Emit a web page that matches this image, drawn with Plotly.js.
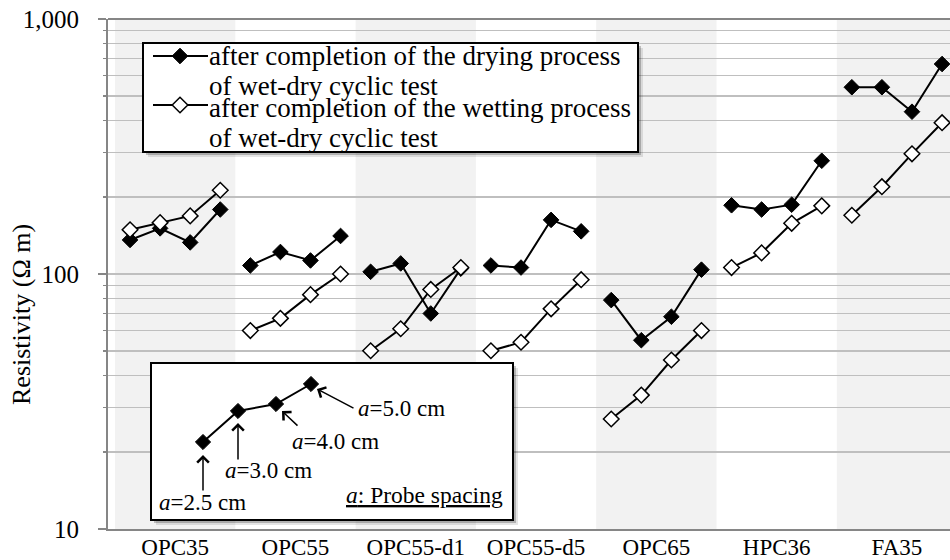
<!DOCTYPE html>
<html><head><meta charset="utf-8">
<script src="https://cdn.plot.ly/plotly-3.0.1.min.js"></script>
<style>
html,body{margin:0;padding:0;background:#fff;}
#chart{width:950px;height:560px;}
</style></head><body><div id="chart"></div>
<script>
// ---- data ----
const groups = ['OPC35','OPC55','OPC55-d1','OPC55-d5','OPC65','HPC36','FA35'];
const probeSpacing = [2.5, 3.0, 4.0, 5.0]; // cm, order of points inside each group
// resistivity (Ohm m) after the drying process, 4 values per group
const dryOPC35 = [136, 151, 133, 179];
const dryOPC55 = [108, 122, 113, 141];
const dryOPC55d1 = [102, 110, 70, 105];
const dryOPC55d5 = [108, 106, 163, 147];
const dryOPC65 = [79, 55, 68, 104];
const dryHPC36 = [186, 179, 187, 278];
const dryFA35 = [540, 540, 433, 666];
// resistivity (Ohm m) after the wetting process
const wetOPC35 = [149, 159, 169, 213];
const wetOPC55 = [60, 67, 83, 100];
const wetOPC55d1 = [50, 61, 87, 106];
const wetOPC55d5 = [50, 54, 73, 95];
const wetOPC65 = [27, 33.5, 46, 60];
const wetHPC36 = [106, 121, 158, 185];
const wetFA35 = [170, 220, 296, 392];
const yTickVals = [10, 100, 1000];
const yTickText = ['10', '100', '1,000'];
const legendNames = ['after completion of the drying process', 'of wet-dry cyclic test',
                     'after completion of the wetting process', 'of wet-dry cyclic test'];

const drySeries = [dryOPC35, dryOPC55, dryOPC55d1, dryOPC55d5, dryOPC65, dryHPC36, dryFA35];
const wetSeries = [wetOPC35, wetOPC55, wetOPC55d1, wetOPC55d5, wetOPC65, wetHPC36, wetFA35];

function buildXY(series){
  const x = [], y = [];
  series.forEach((vals, g) => {
    vals.forEach((v, j) => { x.push(g + (j + 0.5) / probeSpacing.length); y.push(v); });
    x.push(null); y.push(null);
  });
  return {x, y};
}
const dryXY = buildXY(drySeries);
const wetXY = buildXY(wetSeries);

const FONT = 'Liberation Serif, Times New Roman, serif';
// helpers: page pixel -> paper coords (plot area 108..950 x 19..529)
const L = 108, R = 950, T = 19, B = 529;
const PX = x => (x - L) / (R - L);
const PY = y => (B - y) / (B - T);

const minorVals = [];
[10, 100].forEach(d => { for (let k = 2; k <= 9; k++) minorVals.push(k * d); });

const shapes = [];
// alternating shaded bands
groups.forEach((_, g) => {
  if (g % 2 === 0) shapes.push({type:'rect', xref:'x', yref:'paper', x0:g, x1:g+1, y0:0, y1:1,
    fillcolor:'#f2f2f2', line:{width:0}, layer:'below'});
});
// top frame line
shapes.push({type:'line', xref:'paper', yref:'paper', x0:0, x1:1, y0:1, y1:1, line:{color:'#868686', width:2}, layer:'above'});

function box(x0, y0, x1, y1){
  shapes.push({type:'rect', xref:'paper', yref:'paper', x0:PX(x0+5), x1:PX(x1+5), y0:PY(y1+5), y1:PY(y0+5),
    fillcolor:'rgba(0,0,0,0.10)', line:{width:0}, layer:'above'});
  shapes.push({type:'rect', xref:'paper', yref:'paper', x0:PX(x0+3), x1:PX(x1+3), y0:PY(y1+3), y1:PY(y0+3),
    fillcolor:'rgba(0,0,0,0.22)', line:{width:0}, layer:'above'});
  shapes.push({type:'rect', xref:'paper', yref:'paper', x0:PX(x0), x1:PX(x1), y0:PY(y1), y1:PY(y0),
    fillcolor:'#ffffff', line:{color:'#000', width:2}, layer:'above'});
}
function diamond(cx, cy, r, fill, lw){
  shapes.push({type:'path', xref:'paper', yref:'paper',
    path:`M${PX(cx-r)},${PY(cy)} L${PX(cx)},${PY(cy-r)} L${PX(cx+r)},${PY(cy)} L${PX(cx)},${PY(cy+r)} Z`,
    fillcolor:fill, line:{color:'#000', width:lw}, layer:'above'});
}
function seg(pts){
  shapes.push({type:'path', xref:'paper', yref:'paper',
    path: pts.map((p,i)=>(i?'L':'M')+PX(p[0])+','+PY(p[1])).join(' '),
    line:{color:'#000', width:2}, layer:'above'});
}
// legend box
box(143, 43, 638, 152);
seg([[153,56],[208,56]]); diamond(180, 56, 7.8, '#000', 1);
seg([[153,105],[208,105]]); diamond(180, 105, 7.8, '#fff', 1.5);
// inset box
box(151, 363, 513, 520);
const insetPts = [[203,442],[238,411],[276,404],[311,384]];
seg(insetPts);
insetPts.forEach(p => diamond(p[0], p[1], 7.6, '#000', 1));

const annotations = [];
function txt(x, y, text, opts){
  annotations.push(Object.assign({xref:'paper', yref:'paper', x:PX(x), y:PY(y), text, showarrow:false,
    xanchor:'center', yanchor:'middle', font:{family:FONT, size:23, color:'#000'}}, opts||{}));
}
function arrow(tip, tail){
  annotations.push({xref:'paper', yref:'paper', x:PX(tip[0]), y:PY(tip[1]), ax:tail[0]-tip[0], ay:tail[1]-tip[1],
    text:'', showarrow:true, arrowhead:4, arrowsize:1.5, arrowwidth:1.5, arrowcolor:'#000'});
}
// legend text
const legY = [56, 86, 108, 138];
legendNames.forEach((t, i) => txt(207, legY[i], t, {xanchor:'left', font:{family:FONT, size:27, color:'#000'}}));
// inset annotations
arrow([203,455],[203,492]);
arrow([238,423],[238,461]);
arrow([282,411],[299,427]);
arrow([317,389],[355,409]);
txt(202, 502, '<i>a</i>=2.5 cm');
txt(268, 470, '<i>a</i>=3.0 cm');
txt(335, 442, '<i>a</i>=4.0 cm');
txt(401, 408, '<i>a</i>=5.0 cm');
txt(424, 495, '<u><i>a</i>: Probe spacing</u>', {font:{family:FONT, size:23.5, color:'#000'}});
// y title
txt(22, 315, 'Resistivity (Ω m)', {textangle:-90, font:{family:FONT, size:26, color:'#000'}});

const traces = [
  {x:dryXY.x, y:dryXY.y, mode:'lines+markers', connectgaps:false, showlegend:false, hoverinfo:'skip',
   line:{color:'#000', width:2}, marker:{symbol:'diamond', size:12, color:'#000', line:{color:'#000', width:1}}, cliponaxis:false},
  {x:wetXY.x, y:wetXY.y, mode:'lines+markers', connectgaps:false, showlegend:false, hoverinfo:'skip',
   line:{color:'#000', width:2}, marker:{symbol:'diamond', size:12, color:'#fff', line:{color:'#000', width:1.5}}, cliponaxis:false}
];

const layout = {
  width:950, height:560, margin:{l:L, r:950-R, t:T, b:560-B, pad:0},
  paper_bgcolor:'#fff', plot_bgcolor:'#fff', showlegend:false,
  font:{family:FONT, color:'#000'},
  xaxis:{range:[-7/120.3, -7/120.3 + 842/120.3], showgrid:false, zeroline:false, showline:true,
    linecolor:'#868686', linewidth:2, tickmode:'array', tickvals:groups.map((_,g)=>g+0.5), ticktext:groups,
    ticks:'', tickfont:{family:FONT, size:23, color:'#000'}, ticklabelstandoff:-4, fixedrange:true},
  yaxis:{type:'log', range:[1,3], tickmode:'array', tickvals:yTickVals, ticktext:yTickText,
    showgrid:true, gridcolor:'#bfbfbf', gridwidth:1.5, zeroline:false, showline:true, linecolor:'#868686', linewidth:2,
    ticks:'outside', ticklen:8, tickwidth:2, tickcolor:'#868686', ticklabelstandoff:14,
    tickfont:{family:FONT, size:25, color:'#000'},
    minor:{tickmode:'array', tickvals:minorVals, showgrid:true, gridcolor:'#bfbfbf', gridwidth:1.5,
      ticks:'outside', ticklen:3, tickwidth:1.5, tickcolor:'#868686'}, fixedrange:true},
  shapes, annotations
};
Plotly.newPlot('chart', traces, layout, {displayModeBar:false, staticPlot:true});
</script></body></html>
